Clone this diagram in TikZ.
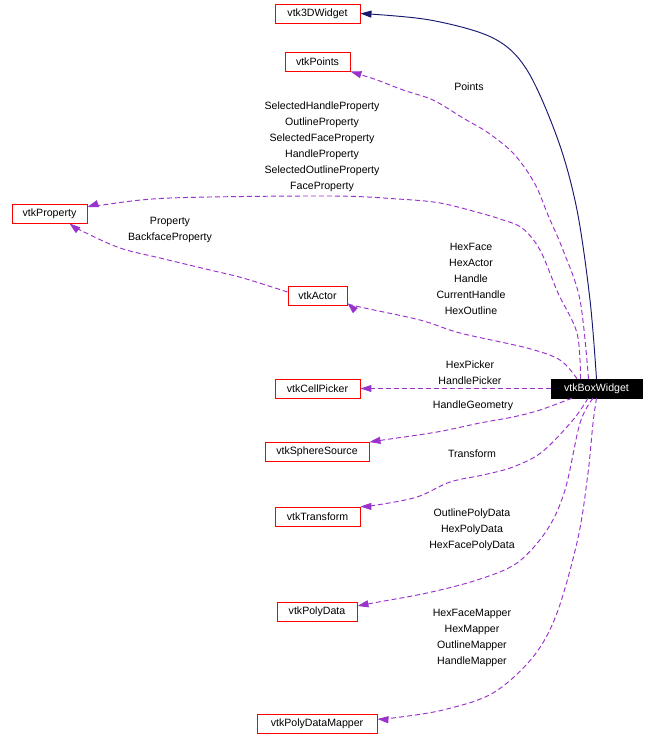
\documentclass[tikz,border=0pt]{standalone}
\usepackage{fontspec}
\setmainfont{Liberation Sans}
\usetikzlibrary{arrows.meta}
\definecolor{edgepurple}{HTML}{9A32CD}
\definecolor{edgenavy}{HTML}{191970}
\begin{document}
\begin{tikzpicture}[x=1pt,y=-1pt,
  txt/.style={font=\fontsize{10.6}{16}\selectfont},
  cls/.style={txt, draw=red, line width=0.9pt, minimum height=19pt, inner sep=0pt},
  mainbox/.style={txt, fill=black, text=white, draw=black, minimum height=19pt, inner sep=0pt},
  dep/.style={edgepurple, line width=0.95pt, dash pattern=on 5pt off 3pt, -{Triangle[length=11pt,width=7pt]}},
  inh/.style={edgenavy, line width=0.95pt, -{Triangle[length=11pt,width=7pt]}},
  lbl/.style={txt, inner sep=0pt, align=center}
]
\useasboundingbox (0,0) rectangle (656,750);

% nodes
\node[cls, minimum width=85pt]  (w3d)   at (317.5,13.5)  {vtk3DWidget};
\node[cls, minimum width=65pt]  (pts)   at (317.5,61.5)  {vtkPoints};
\node[cls, minimum width=75pt]  (prop)  at (49.5,213.5)  {vtkProperty};
\node[cls, minimum width=59pt]  (actor) at (317.5,296)   {vtkActor};
\node[mainbox, minimum width=91pt] (bw) at (596.5,388.5) {vtkBoxWidget};
\node[cls, minimum width=85pt]  (cp)    at (317.5,388.5) {vtkCellPicker};
\node[cls, minimum width=104pt] (ss)    at (317,452)     {vtkSphereSource};
\node[cls, minimum width=85pt]  (tr)    at (317.5,516.5) {vtkTransform};
\node[cls, minimum width=80pt]  (pd)    at (317,612)     {vtkPolyData};
\node[cls, minimum width=120pt] (pdm)   at (317,724)     {vtkPolyDataMapper};

% inheritance
\draw[inh] plot[smooth, tension=0.55] coordinates {(bw.north) (590,300) (577,210) (558,140) (527,70) (493,38) (430,20) (w3d.east)};

% usage edges
\draw[dep] plot[smooth, tension=0.55] coordinates {([xshift=-8pt]bw.north) (580,300) (563,250) (548,215) (537,188) (525,168) (510,150) (487,132) (463,118) (433,100) (403,90) (377,80) (pts.south east)};

\draw[dep] plot[smooth, tension=0.55] coordinates {([xshift=-16pt]bw.north) (577,333) (558,293) (540,250) (522,228) (500,219) (480,213) (440,203) (398,199) (330,196) (170,198) (102,205) ([yshift=6.5pt]prop.east)};

\draw[dep] plot[smooth, tension=0.55] coordinates {([xshift=-19.5pt]bw.north) (560,360) (527,348) (460,333) (420,320) (360,307) ([yshift=-7pt]actor.east)};

\draw[dep] plot[smooth, tension=0.55] coordinates {([yshift=4pt]actor.west) (243,278) (210,270) (160,258) (120,248) (82,231) ([xshift=20pt]prop.south)};

\draw[dep] (bw.west) -- (cp.east);

\draw[dep] plot[smooth, tension=0.55] coordinates {([xshift=-24.5pt]bw.south) (540,410) (513,417) (480,423) (437,432) (383,440) (ss.north east)};

\draw[dep] plot[smooth, tension=0.55] coordinates {([xshift=-8.5pt]bw.south) (573,420) (542,452) (513,467) (483,475) (450,482) (417,497) (377,505) (tr.north east)};

\draw[dep] plot[smooth, tension=0.55] coordinates {([xshift=-3.5pt]bw.south) (580,423) (565,490) (547,530) (517,563) (477,580) (427,593) (373,603) ([yshift=6pt]pd.east)};

\draw[dep] plot[smooth, tension=0.55] coordinates {(bw.south) (593,423) (588,473) (578,538) (557,613) (533,657) (493,693) (443,710) (393,718) ([yshift=5pt]pdm.east)};

% labels
\node[lbl] (lpts) at (469,86.5) {Points};
\node[lbl] (lprop) at (322,146.5) {SelectedHandleProperty\\OutlineProperty\\SelectedFaceProperty\\HandleProperty\\SelectedOutlineProperty\\FaceProperty};
\node[lbl] (lap) at (170,229.5) {Property\\BackfaceProperty};
\node[lbl] (lact) at (471,278.5) {HexFace\\HexActor\\Handle\\CurrentHandle\\HexOutline};
\node[lbl] (lcp) at (470,372.5) {HexPicker\\HandlePicker};
\node[lbl] (lss) at (473,405.5) {HandleGeometry};
\node[lbl] (ltr) at (472,453.5) {Transform};
\node[lbl] (lpd) at (472,529.5) {OutlinePolyData\\HexPolyData\\HexFacePolyData};
\node[lbl] (lpdm) at (472,637.5) {HexFaceMapper\\HexMapper\\OutlineMapper\\HandleMapper};
\end{tikzpicture}
\end{document}
